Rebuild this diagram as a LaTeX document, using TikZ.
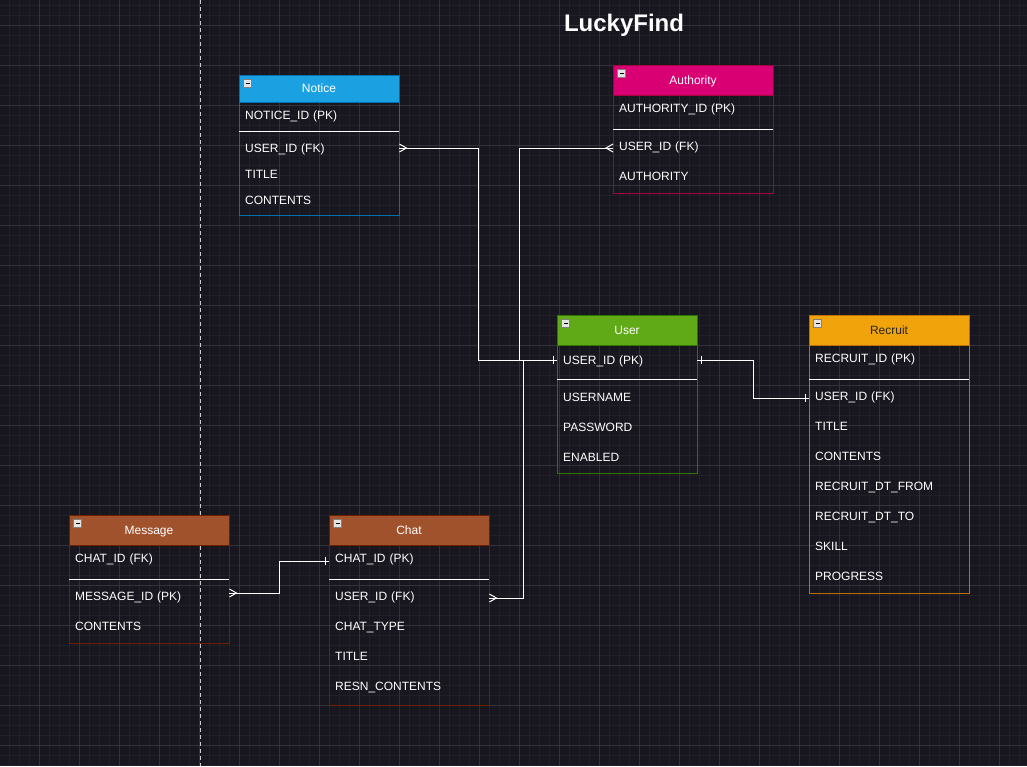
\documentclass[tikz,border=0pt]{standalone}
\usepackage{fontspec}
\setmainfont{Liberation Sans}
\usetikzlibrary{calc}

\definecolor{bgdark}{HTML}{18161E}
\definecolor{gridminor}{HTML}{211F28}
\definecolor{gridmajor}{HTML}{33313A}
\definecolor{noticef}{HTML}{1BA1E2}
\definecolor{noticeb}{HTML}{006EAF}
\definecolor{authf}{HTML}{D80073}
\definecolor{authb}{HTML}{A50040}
\definecolor{userf}{HTML}{60A917}
\definecolor{userb}{HTML}{2D7600}
\definecolor{recf}{HTML}{F0A30A}
\definecolor{recb}{HTML}{BD7000}
\definecolor{chatf}{HTML}{A0522D}
\definecolor{chatb}{HTML}{6D1F00}
\definecolor{iconf}{HTML}{E4E4E4}

\newcommand{\fldfont}{\fontsize{12}{14}\selectfont}

\begin{document}
\begin{tikzpicture}[x=1pt,y=-1pt,
  hdr/.style={minimum width=160pt,minimum height=30pt,inner sep=0pt,
    text height=8.6pt,text depth=0pt,text=white,font=\fldfont},
  fld/.style={anchor=west,text width=#1pt,inner xsep=6pt,inner ysep=0pt,
    text height=8.6pt,text depth=0pt,align=left,text=white,font=\fldfont},
  fld/.default=148,
  conn/.style={white,line width=1pt},
  sepline/.style={white,line width=1pt}]
\useasboundingbox (0,0) rectangle (1027,766);
% background and grid
\fill[bgdark] (0,0) rectangle (1027,766);
\foreach \x in {9.5,19.5,...,1027}
  \draw[gridminor,line width=1pt] (\x,0) -- (\x,766);
\foreach \y in {5,15,...,766}
  \draw[gridminor,line width=1pt] (0,\y) -- (1027,\y);
\foreach \x in {39.5,79.5,...,1027}
  \draw[gridmajor,line width=1pt] (\x,0) -- (\x,766);
\foreach \y in {25,65,...,766}
  \draw[gridmajor,line width=1pt] (0,\y) -- (1027,\y);
% dashed divider
\draw[gray!40,line width=1pt,dash pattern=on 4pt off 3pt] (200,0) -- (200,766);
% title
\node[font=\fontsize{24}{28}\selectfont\bfseries,text=white] (title) at (624,25) {LuckyFind};

% Notice
\draw[noticeb,line width=1pt] (239,75) rectangle (399,215);
\node[hdr,fill=noticef,draw=noticeb,minimum height=27pt] (notice) at (319,88.5) {Notice};
\node[fld] (nId) at (239,115) {NOTICE\_ID (PK)};
\draw[sepline] (239,131) -- (399,131);
\node[fld] (nUser) at (239,148) {USER\_ID (FK)};
\node[fld] (nTitle) at (239,174) {TITLE};
\node[fld] (nCont) at (239,200) {CONTENTS};

% Authority
\draw[authb,line width=1pt] (613,65) rectangle (773,193);
\node[hdr,fill=authf,draw=authb] (authority) at (693,80) {Authority};
\node[fld] (aId) at (613,108) {AUTHORITY\_ID (PK)};
\draw[sepline] (613,129) -- (773,129);
\node[fld] (aUser) at (613,146) {USER\_ID (FK)};
\node[fld] (aAuth) at (613,176) {AUTHORITY};

% User
\draw[userb,line width=1pt] (557,315) rectangle (697,473);
\node[hdr,fill=userf,draw=userb,minimum width=140pt] (user) at (627,330) {User};
\node[fld=128] (uId) at (557,360) {USER\_ID (PK)};
\draw[sepline] (557,379) -- (697,379);
\node[fld=128] (uName) at (557,397) {USERNAME};
\node[fld=128] (uPw) at (557,427) {PASSWORD};
\node[fld=128] (uEn) at (557,457) {ENABLED};

% Recruit
\draw[recb,line width=1pt] (809,315) rectangle (969,593);
\node[hdr,fill=recf,draw=recb,text=black!85] (recruit) at (889,330) {Recruit};
\node[fld] (rId) at (809,358) {RECRUIT\_ID (PK)};
\draw[sepline] (809,379) -- (969,379);
\node[fld] (rUser) at (809,396) {USER\_ID (FK)};
\node[fld] (rTitle) at (809,426) {TITLE};
\node[fld] (rCont) at (809,456) {CONTENTS};
\node[fld] (rFrom) at (809,486) {RECRUIT\_DT\_FROM};
\node[fld] (rTo) at (809,516) {RECRUIT\_DT\_TO};
\node[fld] (rSkill) at (809,546) {SKILL};
\node[fld] (rProg) at (809,576) {PROGRESS};

% Message
\draw[chatb,line width=1pt] (69,515) rectangle (229,643);
\node[hdr,fill=chatf,draw=chatb] (message) at (149,530) {Message};
\node[fld] (mChat) at (69,558) {CHAT\_ID (FK)};
\draw[sepline] (69,579) -- (229,579);
\node[fld] (mId) at (69,596) {MESSAGE\_ID (PK)};
\node[fld] (mCont) at (69,626) {CONTENTS};

% Chat
\draw[chatb,line width=1pt] (329,515) rectangle (489,705);
\node[hdr,fill=chatf,draw=chatb] (chat) at (409,530) {Chat};
\node[fld] (cId) at (329,558) {CHAT\_ID (PK)};
\draw[sepline] (329,579) -- (489,579);
\node[fld] (cUser) at (329,596) {USER\_ID (FK)};
\node[fld] (cType) at (329,626) {CHAT\_TYPE};
\node[fld] (cTitle) at (329,656) {TITLE};
\node[fld] (cResn) at (329,686) {RESN\_CONTENTS};

% collapse icons
\foreach \h in {notice,authority,user,recruit,message,chat}{
  \draw[fill=iconf,draw=gray,line width=0.8pt] ([xshift=5pt,yshift=-5pt]\h.north west) rectangle ++(8,8);
  \draw[black,line width=1.2pt] ([xshift=6.8pt,yshift=-9pt]\h.north west) -- ++(4.4,0);
}

% connector ends
\coordinate (aFK) at ([yshift=-2pt]aUser.west);
\coordinate (rFK) at ([yshift=-2pt]rUser.west);
\coordinate (cFK) at ([yshift=-2pt]cUser.east);
\coordinate (cPK) at ([yshift=-3pt]cId.west);
\coordinate (mPK) at ([yshift=3pt]mId.east);

% relations
\draw[conn] (nUser.east) -| ($(nUser.east)!.5!(uId.west)$) |- (uId.west);
\draw[conn] (aFK) -| ($(uId.west)+(-38,0)$) -- (uId.west);
\draw[conn] (cFK) -| ($(cFK)!.5!(uId.west)$) |- (uId.west);
\draw[conn] (uId.east) -| ($(uId.east)!.5!(rFK)$) |- (rFK);
\draw[conn] (mPK) -| ($(mPK)!.5!(cPK)$) |- (cPK);

% many ends
\draw[conn] ([yshift=4pt]nUser.east) -- ++(7,4) -- ++(-7,4);
\draw[conn] ([yshift=4pt]aFK) -- ++(-7,4) -- ++(7,4);
\draw[conn] ([yshift=4pt]cFK) -- ++(7,4) -- ++(-7,4);
\draw[conn] ([yshift=4pt]mPK) -- ++(7,4) -- ++(-7,4);
% one ends
\draw[conn] ([xshift=-4pt,yshift=4pt]uId.west) -- ++(0,8);
\draw[conn] ([xshift=4pt,yshift=4pt]uId.east) -- ++(0,8);
\draw[conn] ([xshift=-4pt,yshift=4pt]rFK) -- ++(0,8);
\draw[conn] ([xshift=-4pt,yshift=4pt]cPK) -- ++(0,8);
\end{tikzpicture}
\end{document}
